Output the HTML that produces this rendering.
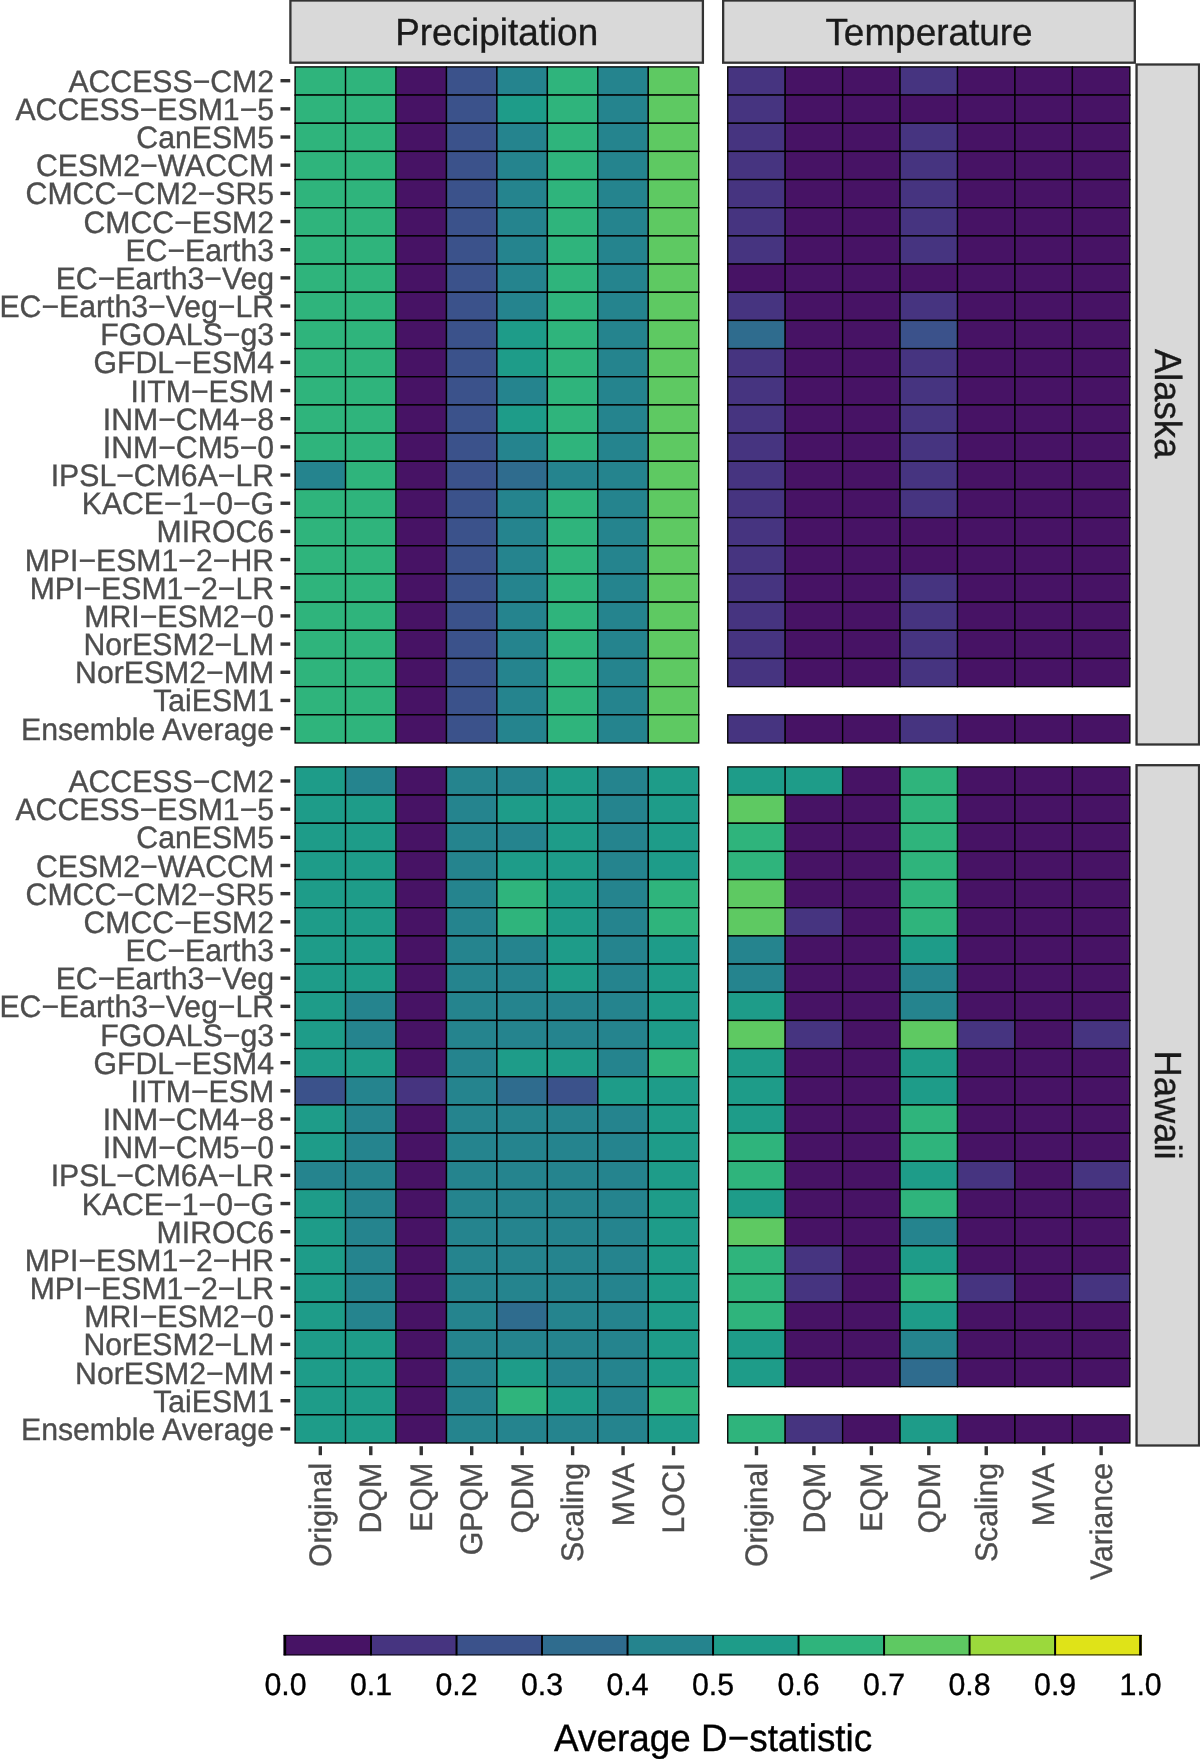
<!DOCTYPE html>
<html><head><meta charset="utf-8"><style>
html,body{margin:0;padding:0;background:#fff;width:1200px;height:1759px;overflow:hidden}
svg{display:block;font-family:"Liberation Sans",sans-serif;text-rendering:geometricPrecision;will-change:transform}
</style></head><body>
<svg width="1200" height="1759" viewBox="0 0 1200 1759">
<rect width="1200" height="1759" fill="#fff"/>
<g stroke="#000" stroke-width="1.35">
<rect x="295.10" y="66.90" width="50.46" height="28.17" fill="#2fb47c"/>
<rect x="345.56" y="66.90" width="50.46" height="28.17" fill="#2fb47c"/>
<rect x="396.01" y="66.90" width="50.46" height="28.17" fill="#471365"/>
<rect x="446.47" y="66.90" width="50.46" height="28.17" fill="#3b528b"/>
<rect x="496.93" y="66.90" width="50.46" height="28.17" fill="#25848e"/>
<rect x="547.38" y="66.90" width="50.46" height="28.17" fill="#2fb47c"/>
<rect x="597.84" y="66.90" width="50.46" height="28.17" fill="#25848e"/>
<rect x="648.29" y="66.90" width="50.46" height="28.17" fill="#5ec962"/>
<rect x="295.10" y="95.07" width="50.46" height="28.17" fill="#2fb47c"/>
<rect x="345.56" y="95.07" width="50.46" height="28.17" fill="#2fb47c"/>
<rect x="396.01" y="95.07" width="50.46" height="28.17" fill="#471365"/>
<rect x="446.47" y="95.07" width="50.46" height="28.17" fill="#3b528b"/>
<rect x="496.93" y="95.07" width="50.46" height="28.17" fill="#1e9c89"/>
<rect x="547.38" y="95.07" width="50.46" height="28.17" fill="#2fb47c"/>
<rect x="597.84" y="95.07" width="50.46" height="28.17" fill="#25848e"/>
<rect x="648.29" y="95.07" width="50.46" height="28.17" fill="#5ec962"/>
<rect x="295.10" y="123.24" width="50.46" height="28.17" fill="#2fb47c"/>
<rect x="345.56" y="123.24" width="50.46" height="28.17" fill="#2fb47c"/>
<rect x="396.01" y="123.24" width="50.46" height="28.17" fill="#471365"/>
<rect x="446.47" y="123.24" width="50.46" height="28.17" fill="#3b528b"/>
<rect x="496.93" y="123.24" width="50.46" height="28.17" fill="#25848e"/>
<rect x="547.38" y="123.24" width="50.46" height="28.17" fill="#2fb47c"/>
<rect x="597.84" y="123.24" width="50.46" height="28.17" fill="#25848e"/>
<rect x="648.29" y="123.24" width="50.46" height="28.17" fill="#5ec962"/>
<rect x="295.10" y="151.41" width="50.46" height="28.17" fill="#2fb47c"/>
<rect x="345.56" y="151.41" width="50.46" height="28.17" fill="#2fb47c"/>
<rect x="396.01" y="151.41" width="50.46" height="28.17" fill="#471365"/>
<rect x="446.47" y="151.41" width="50.46" height="28.17" fill="#3b528b"/>
<rect x="496.93" y="151.41" width="50.46" height="28.17" fill="#25848e"/>
<rect x="547.38" y="151.41" width="50.46" height="28.17" fill="#2fb47c"/>
<rect x="597.84" y="151.41" width="50.46" height="28.17" fill="#25848e"/>
<rect x="648.29" y="151.41" width="50.46" height="28.17" fill="#5ec962"/>
<rect x="295.10" y="179.58" width="50.46" height="28.17" fill="#2fb47c"/>
<rect x="345.56" y="179.58" width="50.46" height="28.17" fill="#2fb47c"/>
<rect x="396.01" y="179.58" width="50.46" height="28.17" fill="#471365"/>
<rect x="446.47" y="179.58" width="50.46" height="28.17" fill="#3b528b"/>
<rect x="496.93" y="179.58" width="50.46" height="28.17" fill="#25848e"/>
<rect x="547.38" y="179.58" width="50.46" height="28.17" fill="#2fb47c"/>
<rect x="597.84" y="179.58" width="50.46" height="28.17" fill="#25848e"/>
<rect x="648.29" y="179.58" width="50.46" height="28.17" fill="#5ec962"/>
<rect x="295.10" y="207.75" width="50.46" height="28.17" fill="#2fb47c"/>
<rect x="345.56" y="207.75" width="50.46" height="28.17" fill="#2fb47c"/>
<rect x="396.01" y="207.75" width="50.46" height="28.17" fill="#471365"/>
<rect x="446.47" y="207.75" width="50.46" height="28.17" fill="#3b528b"/>
<rect x="496.93" y="207.75" width="50.46" height="28.17" fill="#25848e"/>
<rect x="547.38" y="207.75" width="50.46" height="28.17" fill="#2fb47c"/>
<rect x="597.84" y="207.75" width="50.46" height="28.17" fill="#25848e"/>
<rect x="648.29" y="207.75" width="50.46" height="28.17" fill="#5ec962"/>
<rect x="295.10" y="235.92" width="50.46" height="28.17" fill="#2fb47c"/>
<rect x="345.56" y="235.92" width="50.46" height="28.17" fill="#2fb47c"/>
<rect x="396.01" y="235.92" width="50.46" height="28.17" fill="#471365"/>
<rect x="446.47" y="235.92" width="50.46" height="28.17" fill="#3b528b"/>
<rect x="496.93" y="235.92" width="50.46" height="28.17" fill="#25848e"/>
<rect x="547.38" y="235.92" width="50.46" height="28.17" fill="#2fb47c"/>
<rect x="597.84" y="235.92" width="50.46" height="28.17" fill="#25848e"/>
<rect x="648.29" y="235.92" width="50.46" height="28.17" fill="#5ec962"/>
<rect x="295.10" y="264.09" width="50.46" height="28.17" fill="#2fb47c"/>
<rect x="345.56" y="264.09" width="50.46" height="28.17" fill="#2fb47c"/>
<rect x="396.01" y="264.09" width="50.46" height="28.17" fill="#471365"/>
<rect x="446.47" y="264.09" width="50.46" height="28.17" fill="#3b528b"/>
<rect x="496.93" y="264.09" width="50.46" height="28.17" fill="#25848e"/>
<rect x="547.38" y="264.09" width="50.46" height="28.17" fill="#2fb47c"/>
<rect x="597.84" y="264.09" width="50.46" height="28.17" fill="#25848e"/>
<rect x="648.29" y="264.09" width="50.46" height="28.17" fill="#5ec962"/>
<rect x="295.10" y="292.26" width="50.46" height="28.17" fill="#2fb47c"/>
<rect x="345.56" y="292.26" width="50.46" height="28.17" fill="#2fb47c"/>
<rect x="396.01" y="292.26" width="50.46" height="28.17" fill="#471365"/>
<rect x="446.47" y="292.26" width="50.46" height="28.17" fill="#3b528b"/>
<rect x="496.93" y="292.26" width="50.46" height="28.17" fill="#25848e"/>
<rect x="547.38" y="292.26" width="50.46" height="28.17" fill="#2fb47c"/>
<rect x="597.84" y="292.26" width="50.46" height="28.17" fill="#25848e"/>
<rect x="648.29" y="292.26" width="50.46" height="28.17" fill="#5ec962"/>
<rect x="295.10" y="320.43" width="50.46" height="28.17" fill="#2fb47c"/>
<rect x="345.56" y="320.43" width="50.46" height="28.17" fill="#2fb47c"/>
<rect x="396.01" y="320.43" width="50.46" height="28.17" fill="#471365"/>
<rect x="446.47" y="320.43" width="50.46" height="28.17" fill="#3b528b"/>
<rect x="496.93" y="320.43" width="50.46" height="28.17" fill="#1e9c89"/>
<rect x="547.38" y="320.43" width="50.46" height="28.17" fill="#2fb47c"/>
<rect x="597.84" y="320.43" width="50.46" height="28.17" fill="#25848e"/>
<rect x="648.29" y="320.43" width="50.46" height="28.17" fill="#5ec962"/>
<rect x="295.10" y="348.60" width="50.46" height="28.17" fill="#2fb47c"/>
<rect x="345.56" y="348.60" width="50.46" height="28.17" fill="#2fb47c"/>
<rect x="396.01" y="348.60" width="50.46" height="28.17" fill="#471365"/>
<rect x="446.47" y="348.60" width="50.46" height="28.17" fill="#3b528b"/>
<rect x="496.93" y="348.60" width="50.46" height="28.17" fill="#1e9c89"/>
<rect x="547.38" y="348.60" width="50.46" height="28.17" fill="#2fb47c"/>
<rect x="597.84" y="348.60" width="50.46" height="28.17" fill="#25848e"/>
<rect x="648.29" y="348.60" width="50.46" height="28.17" fill="#5ec962"/>
<rect x="295.10" y="376.77" width="50.46" height="28.17" fill="#2fb47c"/>
<rect x="345.56" y="376.77" width="50.46" height="28.17" fill="#2fb47c"/>
<rect x="396.01" y="376.77" width="50.46" height="28.17" fill="#471365"/>
<rect x="446.47" y="376.77" width="50.46" height="28.17" fill="#3b528b"/>
<rect x="496.93" y="376.77" width="50.46" height="28.17" fill="#25848e"/>
<rect x="547.38" y="376.77" width="50.46" height="28.17" fill="#2fb47c"/>
<rect x="597.84" y="376.77" width="50.46" height="28.17" fill="#25848e"/>
<rect x="648.29" y="376.77" width="50.46" height="28.17" fill="#5ec962"/>
<rect x="295.10" y="404.94" width="50.46" height="28.17" fill="#2fb47c"/>
<rect x="345.56" y="404.94" width="50.46" height="28.17" fill="#2fb47c"/>
<rect x="396.01" y="404.94" width="50.46" height="28.17" fill="#471365"/>
<rect x="446.47" y="404.94" width="50.46" height="28.17" fill="#3b528b"/>
<rect x="496.93" y="404.94" width="50.46" height="28.17" fill="#1e9c89"/>
<rect x="547.38" y="404.94" width="50.46" height="28.17" fill="#2fb47c"/>
<rect x="597.84" y="404.94" width="50.46" height="28.17" fill="#25848e"/>
<rect x="648.29" y="404.94" width="50.46" height="28.17" fill="#5ec962"/>
<rect x="295.10" y="433.11" width="50.46" height="28.17" fill="#2fb47c"/>
<rect x="345.56" y="433.11" width="50.46" height="28.17" fill="#2fb47c"/>
<rect x="396.01" y="433.11" width="50.46" height="28.17" fill="#471365"/>
<rect x="446.47" y="433.11" width="50.46" height="28.17" fill="#3b528b"/>
<rect x="496.93" y="433.11" width="50.46" height="28.17" fill="#25848e"/>
<rect x="547.38" y="433.11" width="50.46" height="28.17" fill="#2fb47c"/>
<rect x="597.84" y="433.11" width="50.46" height="28.17" fill="#25848e"/>
<rect x="648.29" y="433.11" width="50.46" height="28.17" fill="#5ec962"/>
<rect x="295.10" y="461.28" width="50.46" height="28.17" fill="#25848e"/>
<rect x="345.56" y="461.28" width="50.46" height="28.17" fill="#2fb47c"/>
<rect x="396.01" y="461.28" width="50.46" height="28.17" fill="#471365"/>
<rect x="446.47" y="461.28" width="50.46" height="28.17" fill="#3b528b"/>
<rect x="496.93" y="461.28" width="50.46" height="28.17" fill="#2f6c8e"/>
<rect x="547.38" y="461.28" width="50.46" height="28.17" fill="#25848e"/>
<rect x="597.84" y="461.28" width="50.46" height="28.17" fill="#25848e"/>
<rect x="648.29" y="461.28" width="50.46" height="28.17" fill="#5ec962"/>
<rect x="295.10" y="489.45" width="50.46" height="28.17" fill="#2fb47c"/>
<rect x="345.56" y="489.45" width="50.46" height="28.17" fill="#2fb47c"/>
<rect x="396.01" y="489.45" width="50.46" height="28.17" fill="#471365"/>
<rect x="446.47" y="489.45" width="50.46" height="28.17" fill="#3b528b"/>
<rect x="496.93" y="489.45" width="50.46" height="28.17" fill="#25848e"/>
<rect x="547.38" y="489.45" width="50.46" height="28.17" fill="#2fb47c"/>
<rect x="597.84" y="489.45" width="50.46" height="28.17" fill="#25848e"/>
<rect x="648.29" y="489.45" width="50.46" height="28.17" fill="#5ec962"/>
<rect x="295.10" y="517.62" width="50.46" height="28.17" fill="#2fb47c"/>
<rect x="345.56" y="517.62" width="50.46" height="28.17" fill="#2fb47c"/>
<rect x="396.01" y="517.62" width="50.46" height="28.17" fill="#471365"/>
<rect x="446.47" y="517.62" width="50.46" height="28.17" fill="#3b528b"/>
<rect x="496.93" y="517.62" width="50.46" height="28.17" fill="#25848e"/>
<rect x="547.38" y="517.62" width="50.46" height="28.17" fill="#2fb47c"/>
<rect x="597.84" y="517.62" width="50.46" height="28.17" fill="#25848e"/>
<rect x="648.29" y="517.62" width="50.46" height="28.17" fill="#5ec962"/>
<rect x="295.10" y="545.79" width="50.46" height="28.17" fill="#2fb47c"/>
<rect x="345.56" y="545.79" width="50.46" height="28.17" fill="#2fb47c"/>
<rect x="396.01" y="545.79" width="50.46" height="28.17" fill="#471365"/>
<rect x="446.47" y="545.79" width="50.46" height="28.17" fill="#3b528b"/>
<rect x="496.93" y="545.79" width="50.46" height="28.17" fill="#25848e"/>
<rect x="547.38" y="545.79" width="50.46" height="28.17" fill="#2fb47c"/>
<rect x="597.84" y="545.79" width="50.46" height="28.17" fill="#25848e"/>
<rect x="648.29" y="545.79" width="50.46" height="28.17" fill="#5ec962"/>
<rect x="295.10" y="573.96" width="50.46" height="28.17" fill="#2fb47c"/>
<rect x="345.56" y="573.96" width="50.46" height="28.17" fill="#2fb47c"/>
<rect x="396.01" y="573.96" width="50.46" height="28.17" fill="#471365"/>
<rect x="446.47" y="573.96" width="50.46" height="28.17" fill="#3b528b"/>
<rect x="496.93" y="573.96" width="50.46" height="28.17" fill="#25848e"/>
<rect x="547.38" y="573.96" width="50.46" height="28.17" fill="#2fb47c"/>
<rect x="597.84" y="573.96" width="50.46" height="28.17" fill="#25848e"/>
<rect x="648.29" y="573.96" width="50.46" height="28.17" fill="#5ec962"/>
<rect x="295.10" y="602.13" width="50.46" height="28.17" fill="#2fb47c"/>
<rect x="345.56" y="602.13" width="50.46" height="28.17" fill="#2fb47c"/>
<rect x="396.01" y="602.13" width="50.46" height="28.17" fill="#471365"/>
<rect x="446.47" y="602.13" width="50.46" height="28.17" fill="#3b528b"/>
<rect x="496.93" y="602.13" width="50.46" height="28.17" fill="#25848e"/>
<rect x="547.38" y="602.13" width="50.46" height="28.17" fill="#2fb47c"/>
<rect x="597.84" y="602.13" width="50.46" height="28.17" fill="#25848e"/>
<rect x="648.29" y="602.13" width="50.46" height="28.17" fill="#5ec962"/>
<rect x="295.10" y="630.30" width="50.46" height="28.17" fill="#2fb47c"/>
<rect x="345.56" y="630.30" width="50.46" height="28.17" fill="#2fb47c"/>
<rect x="396.01" y="630.30" width="50.46" height="28.17" fill="#471365"/>
<rect x="446.47" y="630.30" width="50.46" height="28.17" fill="#3b528b"/>
<rect x="496.93" y="630.30" width="50.46" height="28.17" fill="#25848e"/>
<rect x="547.38" y="630.30" width="50.46" height="28.17" fill="#2fb47c"/>
<rect x="597.84" y="630.30" width="50.46" height="28.17" fill="#25848e"/>
<rect x="648.29" y="630.30" width="50.46" height="28.17" fill="#5ec962"/>
<rect x="295.10" y="658.47" width="50.46" height="28.17" fill="#2fb47c"/>
<rect x="345.56" y="658.47" width="50.46" height="28.17" fill="#2fb47c"/>
<rect x="396.01" y="658.47" width="50.46" height="28.17" fill="#471365"/>
<rect x="446.47" y="658.47" width="50.46" height="28.17" fill="#3b528b"/>
<rect x="496.93" y="658.47" width="50.46" height="28.17" fill="#25848e"/>
<rect x="547.38" y="658.47" width="50.46" height="28.17" fill="#2fb47c"/>
<rect x="597.84" y="658.47" width="50.46" height="28.17" fill="#25848e"/>
<rect x="648.29" y="658.47" width="50.46" height="28.17" fill="#5ec962"/>
<rect x="295.10" y="686.64" width="50.46" height="28.17" fill="#2fb47c"/>
<rect x="345.56" y="686.64" width="50.46" height="28.17" fill="#2fb47c"/>
<rect x="396.01" y="686.64" width="50.46" height="28.17" fill="#471365"/>
<rect x="446.47" y="686.64" width="50.46" height="28.17" fill="#3b528b"/>
<rect x="496.93" y="686.64" width="50.46" height="28.17" fill="#25848e"/>
<rect x="547.38" y="686.64" width="50.46" height="28.17" fill="#2fb47c"/>
<rect x="597.84" y="686.64" width="50.46" height="28.17" fill="#25848e"/>
<rect x="648.29" y="686.64" width="50.46" height="28.17" fill="#5ec962"/>
<rect x="295.10" y="714.81" width="50.46" height="28.17" fill="#2fb47c"/>
<rect x="345.56" y="714.81" width="50.46" height="28.17" fill="#2fb47c"/>
<rect x="396.01" y="714.81" width="50.46" height="28.17" fill="#471365"/>
<rect x="446.47" y="714.81" width="50.46" height="28.17" fill="#3b528b"/>
<rect x="496.93" y="714.81" width="50.46" height="28.17" fill="#25848e"/>
<rect x="547.38" y="714.81" width="50.46" height="28.17" fill="#2fb47c"/>
<rect x="597.84" y="714.81" width="50.46" height="28.17" fill="#25848e"/>
<rect x="648.29" y="714.81" width="50.46" height="28.17" fill="#5ec962"/>
<rect x="727.75" y="66.90" width="57.44" height="28.17" fill="#463480"/>
<rect x="785.19" y="66.90" width="57.44" height="28.17" fill="#471365"/>
<rect x="842.64" y="66.90" width="57.44" height="28.17" fill="#471365"/>
<rect x="900.08" y="66.90" width="57.44" height="28.17" fill="#463480"/>
<rect x="957.52" y="66.90" width="57.44" height="28.17" fill="#471365"/>
<rect x="1014.96" y="66.90" width="57.44" height="28.17" fill="#471365"/>
<rect x="1072.41" y="66.90" width="57.44" height="28.17" fill="#471365"/>
<rect x="727.75" y="95.07" width="57.44" height="28.17" fill="#463480"/>
<rect x="785.19" y="95.07" width="57.44" height="28.17" fill="#471365"/>
<rect x="842.64" y="95.07" width="57.44" height="28.17" fill="#471365"/>
<rect x="900.08" y="95.07" width="57.44" height="28.17" fill="#471365"/>
<rect x="957.52" y="95.07" width="57.44" height="28.17" fill="#471365"/>
<rect x="1014.96" y="95.07" width="57.44" height="28.17" fill="#471365"/>
<rect x="1072.41" y="95.07" width="57.44" height="28.17" fill="#471365"/>
<rect x="727.75" y="123.24" width="57.44" height="28.17" fill="#463480"/>
<rect x="785.19" y="123.24" width="57.44" height="28.17" fill="#471365"/>
<rect x="842.64" y="123.24" width="57.44" height="28.17" fill="#471365"/>
<rect x="900.08" y="123.24" width="57.44" height="28.17" fill="#463480"/>
<rect x="957.52" y="123.24" width="57.44" height="28.17" fill="#471365"/>
<rect x="1014.96" y="123.24" width="57.44" height="28.17" fill="#471365"/>
<rect x="1072.41" y="123.24" width="57.44" height="28.17" fill="#471365"/>
<rect x="727.75" y="151.41" width="57.44" height="28.17" fill="#463480"/>
<rect x="785.19" y="151.41" width="57.44" height="28.17" fill="#471365"/>
<rect x="842.64" y="151.41" width="57.44" height="28.17" fill="#471365"/>
<rect x="900.08" y="151.41" width="57.44" height="28.17" fill="#463480"/>
<rect x="957.52" y="151.41" width="57.44" height="28.17" fill="#471365"/>
<rect x="1014.96" y="151.41" width="57.44" height="28.17" fill="#471365"/>
<rect x="1072.41" y="151.41" width="57.44" height="28.17" fill="#471365"/>
<rect x="727.75" y="179.58" width="57.44" height="28.17" fill="#463480"/>
<rect x="785.19" y="179.58" width="57.44" height="28.17" fill="#471365"/>
<rect x="842.64" y="179.58" width="57.44" height="28.17" fill="#471365"/>
<rect x="900.08" y="179.58" width="57.44" height="28.17" fill="#463480"/>
<rect x="957.52" y="179.58" width="57.44" height="28.17" fill="#471365"/>
<rect x="1014.96" y="179.58" width="57.44" height="28.17" fill="#471365"/>
<rect x="1072.41" y="179.58" width="57.44" height="28.17" fill="#471365"/>
<rect x="727.75" y="207.75" width="57.44" height="28.17" fill="#463480"/>
<rect x="785.19" y="207.75" width="57.44" height="28.17" fill="#471365"/>
<rect x="842.64" y="207.75" width="57.44" height="28.17" fill="#471365"/>
<rect x="900.08" y="207.75" width="57.44" height="28.17" fill="#463480"/>
<rect x="957.52" y="207.75" width="57.44" height="28.17" fill="#471365"/>
<rect x="1014.96" y="207.75" width="57.44" height="28.17" fill="#471365"/>
<rect x="1072.41" y="207.75" width="57.44" height="28.17" fill="#471365"/>
<rect x="727.75" y="235.92" width="57.44" height="28.17" fill="#463480"/>
<rect x="785.19" y="235.92" width="57.44" height="28.17" fill="#471365"/>
<rect x="842.64" y="235.92" width="57.44" height="28.17" fill="#471365"/>
<rect x="900.08" y="235.92" width="57.44" height="28.17" fill="#463480"/>
<rect x="957.52" y="235.92" width="57.44" height="28.17" fill="#471365"/>
<rect x="1014.96" y="235.92" width="57.44" height="28.17" fill="#471365"/>
<rect x="1072.41" y="235.92" width="57.44" height="28.17" fill="#471365"/>
<rect x="727.75" y="264.09" width="57.44" height="28.17" fill="#471365"/>
<rect x="785.19" y="264.09" width="57.44" height="28.17" fill="#471365"/>
<rect x="842.64" y="264.09" width="57.44" height="28.17" fill="#471365"/>
<rect x="900.08" y="264.09" width="57.44" height="28.17" fill="#471365"/>
<rect x="957.52" y="264.09" width="57.44" height="28.17" fill="#471365"/>
<rect x="1014.96" y="264.09" width="57.44" height="28.17" fill="#471365"/>
<rect x="1072.41" y="264.09" width="57.44" height="28.17" fill="#471365"/>
<rect x="727.75" y="292.26" width="57.44" height="28.17" fill="#463480"/>
<rect x="785.19" y="292.26" width="57.44" height="28.17" fill="#471365"/>
<rect x="842.64" y="292.26" width="57.44" height="28.17" fill="#471365"/>
<rect x="900.08" y="292.26" width="57.44" height="28.17" fill="#463480"/>
<rect x="957.52" y="292.26" width="57.44" height="28.17" fill="#471365"/>
<rect x="1014.96" y="292.26" width="57.44" height="28.17" fill="#471365"/>
<rect x="1072.41" y="292.26" width="57.44" height="28.17" fill="#471365"/>
<rect x="727.75" y="320.43" width="57.44" height="28.17" fill="#2f6c8e"/>
<rect x="785.19" y="320.43" width="57.44" height="28.17" fill="#471365"/>
<rect x="842.64" y="320.43" width="57.44" height="28.17" fill="#471365"/>
<rect x="900.08" y="320.43" width="57.44" height="28.17" fill="#3b528b"/>
<rect x="957.52" y="320.43" width="57.44" height="28.17" fill="#471365"/>
<rect x="1014.96" y="320.43" width="57.44" height="28.17" fill="#471365"/>
<rect x="1072.41" y="320.43" width="57.44" height="28.17" fill="#471365"/>
<rect x="727.75" y="348.60" width="57.44" height="28.17" fill="#463480"/>
<rect x="785.19" y="348.60" width="57.44" height="28.17" fill="#471365"/>
<rect x="842.64" y="348.60" width="57.44" height="28.17" fill="#471365"/>
<rect x="900.08" y="348.60" width="57.44" height="28.17" fill="#463480"/>
<rect x="957.52" y="348.60" width="57.44" height="28.17" fill="#471365"/>
<rect x="1014.96" y="348.60" width="57.44" height="28.17" fill="#471365"/>
<rect x="1072.41" y="348.60" width="57.44" height="28.17" fill="#471365"/>
<rect x="727.75" y="376.77" width="57.44" height="28.17" fill="#463480"/>
<rect x="785.19" y="376.77" width="57.44" height="28.17" fill="#471365"/>
<rect x="842.64" y="376.77" width="57.44" height="28.17" fill="#471365"/>
<rect x="900.08" y="376.77" width="57.44" height="28.17" fill="#463480"/>
<rect x="957.52" y="376.77" width="57.44" height="28.17" fill="#471365"/>
<rect x="1014.96" y="376.77" width="57.44" height="28.17" fill="#471365"/>
<rect x="1072.41" y="376.77" width="57.44" height="28.17" fill="#471365"/>
<rect x="727.75" y="404.94" width="57.44" height="28.17" fill="#463480"/>
<rect x="785.19" y="404.94" width="57.44" height="28.17" fill="#471365"/>
<rect x="842.64" y="404.94" width="57.44" height="28.17" fill="#471365"/>
<rect x="900.08" y="404.94" width="57.44" height="28.17" fill="#463480"/>
<rect x="957.52" y="404.94" width="57.44" height="28.17" fill="#471365"/>
<rect x="1014.96" y="404.94" width="57.44" height="28.17" fill="#471365"/>
<rect x="1072.41" y="404.94" width="57.44" height="28.17" fill="#471365"/>
<rect x="727.75" y="433.11" width="57.44" height="28.17" fill="#463480"/>
<rect x="785.19" y="433.11" width="57.44" height="28.17" fill="#471365"/>
<rect x="842.64" y="433.11" width="57.44" height="28.17" fill="#471365"/>
<rect x="900.08" y="433.11" width="57.44" height="28.17" fill="#463480"/>
<rect x="957.52" y="433.11" width="57.44" height="28.17" fill="#471365"/>
<rect x="1014.96" y="433.11" width="57.44" height="28.17" fill="#471365"/>
<rect x="1072.41" y="433.11" width="57.44" height="28.17" fill="#471365"/>
<rect x="727.75" y="461.28" width="57.44" height="28.17" fill="#463480"/>
<rect x="785.19" y="461.28" width="57.44" height="28.17" fill="#471365"/>
<rect x="842.64" y="461.28" width="57.44" height="28.17" fill="#471365"/>
<rect x="900.08" y="461.28" width="57.44" height="28.17" fill="#463480"/>
<rect x="957.52" y="461.28" width="57.44" height="28.17" fill="#471365"/>
<rect x="1014.96" y="461.28" width="57.44" height="28.17" fill="#471365"/>
<rect x="1072.41" y="461.28" width="57.44" height="28.17" fill="#471365"/>
<rect x="727.75" y="489.45" width="57.44" height="28.17" fill="#463480"/>
<rect x="785.19" y="489.45" width="57.44" height="28.17" fill="#471365"/>
<rect x="842.64" y="489.45" width="57.44" height="28.17" fill="#471365"/>
<rect x="900.08" y="489.45" width="57.44" height="28.17" fill="#463480"/>
<rect x="957.52" y="489.45" width="57.44" height="28.17" fill="#471365"/>
<rect x="1014.96" y="489.45" width="57.44" height="28.17" fill="#471365"/>
<rect x="1072.41" y="489.45" width="57.44" height="28.17" fill="#471365"/>
<rect x="727.75" y="517.62" width="57.44" height="28.17" fill="#463480"/>
<rect x="785.19" y="517.62" width="57.44" height="28.17" fill="#471365"/>
<rect x="842.64" y="517.62" width="57.44" height="28.17" fill="#471365"/>
<rect x="900.08" y="517.62" width="57.44" height="28.17" fill="#471365"/>
<rect x="957.52" y="517.62" width="57.44" height="28.17" fill="#471365"/>
<rect x="1014.96" y="517.62" width="57.44" height="28.17" fill="#471365"/>
<rect x="1072.41" y="517.62" width="57.44" height="28.17" fill="#471365"/>
<rect x="727.75" y="545.79" width="57.44" height="28.17" fill="#463480"/>
<rect x="785.19" y="545.79" width="57.44" height="28.17" fill="#471365"/>
<rect x="842.64" y="545.79" width="57.44" height="28.17" fill="#471365"/>
<rect x="900.08" y="545.79" width="57.44" height="28.17" fill="#471365"/>
<rect x="957.52" y="545.79" width="57.44" height="28.17" fill="#471365"/>
<rect x="1014.96" y="545.79" width="57.44" height="28.17" fill="#471365"/>
<rect x="1072.41" y="545.79" width="57.44" height="28.17" fill="#471365"/>
<rect x="727.75" y="573.96" width="57.44" height="28.17" fill="#463480"/>
<rect x="785.19" y="573.96" width="57.44" height="28.17" fill="#471365"/>
<rect x="842.64" y="573.96" width="57.44" height="28.17" fill="#471365"/>
<rect x="900.08" y="573.96" width="57.44" height="28.17" fill="#463480"/>
<rect x="957.52" y="573.96" width="57.44" height="28.17" fill="#471365"/>
<rect x="1014.96" y="573.96" width="57.44" height="28.17" fill="#471365"/>
<rect x="1072.41" y="573.96" width="57.44" height="28.17" fill="#471365"/>
<rect x="727.75" y="602.13" width="57.44" height="28.17" fill="#463480"/>
<rect x="785.19" y="602.13" width="57.44" height="28.17" fill="#471365"/>
<rect x="842.64" y="602.13" width="57.44" height="28.17" fill="#471365"/>
<rect x="900.08" y="602.13" width="57.44" height="28.17" fill="#463480"/>
<rect x="957.52" y="602.13" width="57.44" height="28.17" fill="#471365"/>
<rect x="1014.96" y="602.13" width="57.44" height="28.17" fill="#471365"/>
<rect x="1072.41" y="602.13" width="57.44" height="28.17" fill="#471365"/>
<rect x="727.75" y="630.30" width="57.44" height="28.17" fill="#463480"/>
<rect x="785.19" y="630.30" width="57.44" height="28.17" fill="#471365"/>
<rect x="842.64" y="630.30" width="57.44" height="28.17" fill="#471365"/>
<rect x="900.08" y="630.30" width="57.44" height="28.17" fill="#463480"/>
<rect x="957.52" y="630.30" width="57.44" height="28.17" fill="#471365"/>
<rect x="1014.96" y="630.30" width="57.44" height="28.17" fill="#471365"/>
<rect x="1072.41" y="630.30" width="57.44" height="28.17" fill="#471365"/>
<rect x="727.75" y="658.47" width="57.44" height="28.17" fill="#463480"/>
<rect x="785.19" y="658.47" width="57.44" height="28.17" fill="#471365"/>
<rect x="842.64" y="658.47" width="57.44" height="28.17" fill="#471365"/>
<rect x="900.08" y="658.47" width="57.44" height="28.17" fill="#463480"/>
<rect x="957.52" y="658.47" width="57.44" height="28.17" fill="#471365"/>
<rect x="1014.96" y="658.47" width="57.44" height="28.17" fill="#471365"/>
<rect x="1072.41" y="658.47" width="57.44" height="28.17" fill="#471365"/>
<rect x="727.75" y="714.81" width="57.44" height="28.17" fill="#463480"/>
<rect x="785.19" y="714.81" width="57.44" height="28.17" fill="#471365"/>
<rect x="842.64" y="714.81" width="57.44" height="28.17" fill="#471365"/>
<rect x="900.08" y="714.81" width="57.44" height="28.17" fill="#463480"/>
<rect x="957.52" y="714.81" width="57.44" height="28.17" fill="#471365"/>
<rect x="1014.96" y="714.81" width="57.44" height="28.17" fill="#471365"/>
<rect x="1072.41" y="714.81" width="57.44" height="28.17" fill="#471365"/>
<rect x="295.10" y="766.90" width="50.46" height="28.17" fill="#1e9c89"/>
<rect x="345.56" y="766.90" width="50.46" height="28.17" fill="#25848e"/>
<rect x="396.01" y="766.90" width="50.46" height="28.17" fill="#471365"/>
<rect x="446.47" y="766.90" width="50.46" height="28.17" fill="#25848e"/>
<rect x="496.93" y="766.90" width="50.46" height="28.17" fill="#25848e"/>
<rect x="547.38" y="766.90" width="50.46" height="28.17" fill="#1e9c89"/>
<rect x="597.84" y="766.90" width="50.46" height="28.17" fill="#25848e"/>
<rect x="648.29" y="766.90" width="50.46" height="28.17" fill="#1e9c89"/>
<rect x="295.10" y="795.07" width="50.46" height="28.17" fill="#1e9c89"/>
<rect x="345.56" y="795.07" width="50.46" height="28.17" fill="#1e9c89"/>
<rect x="396.01" y="795.07" width="50.46" height="28.17" fill="#471365"/>
<rect x="446.47" y="795.07" width="50.46" height="28.17" fill="#25848e"/>
<rect x="496.93" y="795.07" width="50.46" height="28.17" fill="#1e9c89"/>
<rect x="547.38" y="795.07" width="50.46" height="28.17" fill="#1e9c89"/>
<rect x="597.84" y="795.07" width="50.46" height="28.17" fill="#25848e"/>
<rect x="648.29" y="795.07" width="50.46" height="28.17" fill="#1e9c89"/>
<rect x="295.10" y="823.24" width="50.46" height="28.17" fill="#1e9c89"/>
<rect x="345.56" y="823.24" width="50.46" height="28.17" fill="#1e9c89"/>
<rect x="396.01" y="823.24" width="50.46" height="28.17" fill="#471365"/>
<rect x="446.47" y="823.24" width="50.46" height="28.17" fill="#25848e"/>
<rect x="496.93" y="823.24" width="50.46" height="28.17" fill="#25848e"/>
<rect x="547.38" y="823.24" width="50.46" height="28.17" fill="#1e9c89"/>
<rect x="597.84" y="823.24" width="50.46" height="28.17" fill="#25848e"/>
<rect x="648.29" y="823.24" width="50.46" height="28.17" fill="#1e9c89"/>
<rect x="295.10" y="851.41" width="50.46" height="28.17" fill="#1e9c89"/>
<rect x="345.56" y="851.41" width="50.46" height="28.17" fill="#1e9c89"/>
<rect x="396.01" y="851.41" width="50.46" height="28.17" fill="#471365"/>
<rect x="446.47" y="851.41" width="50.46" height="28.17" fill="#25848e"/>
<rect x="496.93" y="851.41" width="50.46" height="28.17" fill="#1e9c89"/>
<rect x="547.38" y="851.41" width="50.46" height="28.17" fill="#1e9c89"/>
<rect x="597.84" y="851.41" width="50.46" height="28.17" fill="#25848e"/>
<rect x="648.29" y="851.41" width="50.46" height="28.17" fill="#1e9c89"/>
<rect x="295.10" y="879.58" width="50.46" height="28.17" fill="#1e9c89"/>
<rect x="345.56" y="879.58" width="50.46" height="28.17" fill="#1e9c89"/>
<rect x="396.01" y="879.58" width="50.46" height="28.17" fill="#471365"/>
<rect x="446.47" y="879.58" width="50.46" height="28.17" fill="#25848e"/>
<rect x="496.93" y="879.58" width="50.46" height="28.17" fill="#2fb47c"/>
<rect x="547.38" y="879.58" width="50.46" height="28.17" fill="#1e9c89"/>
<rect x="597.84" y="879.58" width="50.46" height="28.17" fill="#25848e"/>
<rect x="648.29" y="879.58" width="50.46" height="28.17" fill="#2fb47c"/>
<rect x="295.10" y="907.75" width="50.46" height="28.17" fill="#1e9c89"/>
<rect x="345.56" y="907.75" width="50.46" height="28.17" fill="#1e9c89"/>
<rect x="396.01" y="907.75" width="50.46" height="28.17" fill="#471365"/>
<rect x="446.47" y="907.75" width="50.46" height="28.17" fill="#25848e"/>
<rect x="496.93" y="907.75" width="50.46" height="28.17" fill="#2fb47c"/>
<rect x="547.38" y="907.75" width="50.46" height="28.17" fill="#1e9c89"/>
<rect x="597.84" y="907.75" width="50.46" height="28.17" fill="#25848e"/>
<rect x="648.29" y="907.75" width="50.46" height="28.17" fill="#2fb47c"/>
<rect x="295.10" y="935.92" width="50.46" height="28.17" fill="#1e9c89"/>
<rect x="345.56" y="935.92" width="50.46" height="28.17" fill="#1e9c89"/>
<rect x="396.01" y="935.92" width="50.46" height="28.17" fill="#471365"/>
<rect x="446.47" y="935.92" width="50.46" height="28.17" fill="#25848e"/>
<rect x="496.93" y="935.92" width="50.46" height="28.17" fill="#25848e"/>
<rect x="547.38" y="935.92" width="50.46" height="28.17" fill="#1e9c89"/>
<rect x="597.84" y="935.92" width="50.46" height="28.17" fill="#25848e"/>
<rect x="648.29" y="935.92" width="50.46" height="28.17" fill="#1e9c89"/>
<rect x="295.10" y="964.09" width="50.46" height="28.17" fill="#1e9c89"/>
<rect x="345.56" y="964.09" width="50.46" height="28.17" fill="#1e9c89"/>
<rect x="396.01" y="964.09" width="50.46" height="28.17" fill="#471365"/>
<rect x="446.47" y="964.09" width="50.46" height="28.17" fill="#25848e"/>
<rect x="496.93" y="964.09" width="50.46" height="28.17" fill="#25848e"/>
<rect x="547.38" y="964.09" width="50.46" height="28.17" fill="#1e9c89"/>
<rect x="597.84" y="964.09" width="50.46" height="28.17" fill="#25848e"/>
<rect x="648.29" y="964.09" width="50.46" height="28.17" fill="#1e9c89"/>
<rect x="295.10" y="992.26" width="50.46" height="28.17" fill="#1e9c89"/>
<rect x="345.56" y="992.26" width="50.46" height="28.17" fill="#25848e"/>
<rect x="396.01" y="992.26" width="50.46" height="28.17" fill="#471365"/>
<rect x="446.47" y="992.26" width="50.46" height="28.17" fill="#25848e"/>
<rect x="496.93" y="992.26" width="50.46" height="28.17" fill="#25848e"/>
<rect x="547.38" y="992.26" width="50.46" height="28.17" fill="#25848e"/>
<rect x="597.84" y="992.26" width="50.46" height="28.17" fill="#25848e"/>
<rect x="648.29" y="992.26" width="50.46" height="28.17" fill="#1e9c89"/>
<rect x="295.10" y="1020.43" width="50.46" height="28.17" fill="#1e9c89"/>
<rect x="345.56" y="1020.43" width="50.46" height="28.17" fill="#25848e"/>
<rect x="396.01" y="1020.43" width="50.46" height="28.17" fill="#471365"/>
<rect x="446.47" y="1020.43" width="50.46" height="28.17" fill="#25848e"/>
<rect x="496.93" y="1020.43" width="50.46" height="28.17" fill="#25848e"/>
<rect x="547.38" y="1020.43" width="50.46" height="28.17" fill="#25848e"/>
<rect x="597.84" y="1020.43" width="50.46" height="28.17" fill="#25848e"/>
<rect x="648.29" y="1020.43" width="50.46" height="28.17" fill="#1e9c89"/>
<rect x="295.10" y="1048.60" width="50.46" height="28.17" fill="#1e9c89"/>
<rect x="345.56" y="1048.60" width="50.46" height="28.17" fill="#1e9c89"/>
<rect x="396.01" y="1048.60" width="50.46" height="28.17" fill="#471365"/>
<rect x="446.47" y="1048.60" width="50.46" height="28.17" fill="#25848e"/>
<rect x="496.93" y="1048.60" width="50.46" height="28.17" fill="#1e9c89"/>
<rect x="547.38" y="1048.60" width="50.46" height="28.17" fill="#1e9c89"/>
<rect x="597.84" y="1048.60" width="50.46" height="28.17" fill="#25848e"/>
<rect x="648.29" y="1048.60" width="50.46" height="28.17" fill="#2fb47c"/>
<rect x="295.10" y="1076.77" width="50.46" height="28.17" fill="#3b528b"/>
<rect x="345.56" y="1076.77" width="50.46" height="28.17" fill="#25848e"/>
<rect x="396.01" y="1076.77" width="50.46" height="28.17" fill="#463480"/>
<rect x="446.47" y="1076.77" width="50.46" height="28.17" fill="#25848e"/>
<rect x="496.93" y="1076.77" width="50.46" height="28.17" fill="#2f6c8e"/>
<rect x="547.38" y="1076.77" width="50.46" height="28.17" fill="#3b528b"/>
<rect x="597.84" y="1076.77" width="50.46" height="28.17" fill="#1e9c89"/>
<rect x="648.29" y="1076.77" width="50.46" height="28.17" fill="#1e9c89"/>
<rect x="295.10" y="1104.94" width="50.46" height="28.17" fill="#1e9c89"/>
<rect x="345.56" y="1104.94" width="50.46" height="28.17" fill="#25848e"/>
<rect x="396.01" y="1104.94" width="50.46" height="28.17" fill="#471365"/>
<rect x="446.47" y="1104.94" width="50.46" height="28.17" fill="#25848e"/>
<rect x="496.93" y="1104.94" width="50.46" height="28.17" fill="#25848e"/>
<rect x="547.38" y="1104.94" width="50.46" height="28.17" fill="#25848e"/>
<rect x="597.84" y="1104.94" width="50.46" height="28.17" fill="#25848e"/>
<rect x="648.29" y="1104.94" width="50.46" height="28.17" fill="#1e9c89"/>
<rect x="295.10" y="1133.11" width="50.46" height="28.17" fill="#1e9c89"/>
<rect x="345.56" y="1133.11" width="50.46" height="28.17" fill="#25848e"/>
<rect x="396.01" y="1133.11" width="50.46" height="28.17" fill="#471365"/>
<rect x="446.47" y="1133.11" width="50.46" height="28.17" fill="#25848e"/>
<rect x="496.93" y="1133.11" width="50.46" height="28.17" fill="#25848e"/>
<rect x="547.38" y="1133.11" width="50.46" height="28.17" fill="#25848e"/>
<rect x="597.84" y="1133.11" width="50.46" height="28.17" fill="#25848e"/>
<rect x="648.29" y="1133.11" width="50.46" height="28.17" fill="#1e9c89"/>
<rect x="295.10" y="1161.28" width="50.46" height="28.17" fill="#25848e"/>
<rect x="345.56" y="1161.28" width="50.46" height="28.17" fill="#25848e"/>
<rect x="396.01" y="1161.28" width="50.46" height="28.17" fill="#471365"/>
<rect x="446.47" y="1161.28" width="50.46" height="28.17" fill="#25848e"/>
<rect x="496.93" y="1161.28" width="50.46" height="28.17" fill="#25848e"/>
<rect x="547.38" y="1161.28" width="50.46" height="28.17" fill="#25848e"/>
<rect x="597.84" y="1161.28" width="50.46" height="28.17" fill="#25848e"/>
<rect x="648.29" y="1161.28" width="50.46" height="28.17" fill="#1e9c89"/>
<rect x="295.10" y="1189.45" width="50.46" height="28.17" fill="#1e9c89"/>
<rect x="345.56" y="1189.45" width="50.46" height="28.17" fill="#25848e"/>
<rect x="396.01" y="1189.45" width="50.46" height="28.17" fill="#471365"/>
<rect x="446.47" y="1189.45" width="50.46" height="28.17" fill="#25848e"/>
<rect x="496.93" y="1189.45" width="50.46" height="28.17" fill="#25848e"/>
<rect x="547.38" y="1189.45" width="50.46" height="28.17" fill="#25848e"/>
<rect x="597.84" y="1189.45" width="50.46" height="28.17" fill="#25848e"/>
<rect x="648.29" y="1189.45" width="50.46" height="28.17" fill="#1e9c89"/>
<rect x="295.10" y="1217.62" width="50.46" height="28.17" fill="#1e9c89"/>
<rect x="345.56" y="1217.62" width="50.46" height="28.17" fill="#25848e"/>
<rect x="396.01" y="1217.62" width="50.46" height="28.17" fill="#471365"/>
<rect x="446.47" y="1217.62" width="50.46" height="28.17" fill="#25848e"/>
<rect x="496.93" y="1217.62" width="50.46" height="28.17" fill="#25848e"/>
<rect x="547.38" y="1217.62" width="50.46" height="28.17" fill="#25848e"/>
<rect x="597.84" y="1217.62" width="50.46" height="28.17" fill="#25848e"/>
<rect x="648.29" y="1217.62" width="50.46" height="28.17" fill="#1e9c89"/>
<rect x="295.10" y="1245.79" width="50.46" height="28.17" fill="#1e9c89"/>
<rect x="345.56" y="1245.79" width="50.46" height="28.17" fill="#25848e"/>
<rect x="396.01" y="1245.79" width="50.46" height="28.17" fill="#471365"/>
<rect x="446.47" y="1245.79" width="50.46" height="28.17" fill="#25848e"/>
<rect x="496.93" y="1245.79" width="50.46" height="28.17" fill="#25848e"/>
<rect x="547.38" y="1245.79" width="50.46" height="28.17" fill="#25848e"/>
<rect x="597.84" y="1245.79" width="50.46" height="28.17" fill="#25848e"/>
<rect x="648.29" y="1245.79" width="50.46" height="28.17" fill="#1e9c89"/>
<rect x="295.10" y="1273.96" width="50.46" height="28.17" fill="#1e9c89"/>
<rect x="345.56" y="1273.96" width="50.46" height="28.17" fill="#25848e"/>
<rect x="396.01" y="1273.96" width="50.46" height="28.17" fill="#471365"/>
<rect x="446.47" y="1273.96" width="50.46" height="28.17" fill="#25848e"/>
<rect x="496.93" y="1273.96" width="50.46" height="28.17" fill="#25848e"/>
<rect x="547.38" y="1273.96" width="50.46" height="28.17" fill="#25848e"/>
<rect x="597.84" y="1273.96" width="50.46" height="28.17" fill="#25848e"/>
<rect x="648.29" y="1273.96" width="50.46" height="28.17" fill="#1e9c89"/>
<rect x="295.10" y="1302.13" width="50.46" height="28.17" fill="#1e9c89"/>
<rect x="345.56" y="1302.13" width="50.46" height="28.17" fill="#25848e"/>
<rect x="396.01" y="1302.13" width="50.46" height="28.17" fill="#471365"/>
<rect x="446.47" y="1302.13" width="50.46" height="28.17" fill="#25848e"/>
<rect x="496.93" y="1302.13" width="50.46" height="28.17" fill="#2f6c8e"/>
<rect x="547.38" y="1302.13" width="50.46" height="28.17" fill="#25848e"/>
<rect x="597.84" y="1302.13" width="50.46" height="28.17" fill="#25848e"/>
<rect x="648.29" y="1302.13" width="50.46" height="28.17" fill="#1e9c89"/>
<rect x="295.10" y="1330.30" width="50.46" height="28.17" fill="#1e9c89"/>
<rect x="345.56" y="1330.30" width="50.46" height="28.17" fill="#1e9c89"/>
<rect x="396.01" y="1330.30" width="50.46" height="28.17" fill="#471365"/>
<rect x="446.47" y="1330.30" width="50.46" height="28.17" fill="#25848e"/>
<rect x="496.93" y="1330.30" width="50.46" height="28.17" fill="#25848e"/>
<rect x="547.38" y="1330.30" width="50.46" height="28.17" fill="#25848e"/>
<rect x="597.84" y="1330.30" width="50.46" height="28.17" fill="#25848e"/>
<rect x="648.29" y="1330.30" width="50.46" height="28.17" fill="#1e9c89"/>
<rect x="295.10" y="1358.47" width="50.46" height="28.17" fill="#1e9c89"/>
<rect x="345.56" y="1358.47" width="50.46" height="28.17" fill="#1e9c89"/>
<rect x="396.01" y="1358.47" width="50.46" height="28.17" fill="#471365"/>
<rect x="446.47" y="1358.47" width="50.46" height="28.17" fill="#25848e"/>
<rect x="496.93" y="1358.47" width="50.46" height="28.17" fill="#1e9c89"/>
<rect x="547.38" y="1358.47" width="50.46" height="28.17" fill="#25848e"/>
<rect x="597.84" y="1358.47" width="50.46" height="28.17" fill="#25848e"/>
<rect x="648.29" y="1358.47" width="50.46" height="28.17" fill="#1e9c89"/>
<rect x="295.10" y="1386.64" width="50.46" height="28.17" fill="#1e9c89"/>
<rect x="345.56" y="1386.64" width="50.46" height="28.17" fill="#1e9c89"/>
<rect x="396.01" y="1386.64" width="50.46" height="28.17" fill="#471365"/>
<rect x="446.47" y="1386.64" width="50.46" height="28.17" fill="#25848e"/>
<rect x="496.93" y="1386.64" width="50.46" height="28.17" fill="#2fb47c"/>
<rect x="547.38" y="1386.64" width="50.46" height="28.17" fill="#1e9c89"/>
<rect x="597.84" y="1386.64" width="50.46" height="28.17" fill="#25848e"/>
<rect x="648.29" y="1386.64" width="50.46" height="28.17" fill="#2fb47c"/>
<rect x="295.10" y="1414.81" width="50.46" height="28.17" fill="#1e9c89"/>
<rect x="345.56" y="1414.81" width="50.46" height="28.17" fill="#1e9c89"/>
<rect x="396.01" y="1414.81" width="50.46" height="28.17" fill="#471365"/>
<rect x="446.47" y="1414.81" width="50.46" height="28.17" fill="#25848e"/>
<rect x="496.93" y="1414.81" width="50.46" height="28.17" fill="#25848e"/>
<rect x="547.38" y="1414.81" width="50.46" height="28.17" fill="#25848e"/>
<rect x="597.84" y="1414.81" width="50.46" height="28.17" fill="#25848e"/>
<rect x="648.29" y="1414.81" width="50.46" height="28.17" fill="#1e9c89"/>
<rect x="727.75" y="766.90" width="57.44" height="28.17" fill="#1e9c89"/>
<rect x="785.19" y="766.90" width="57.44" height="28.17" fill="#1e9c89"/>
<rect x="842.64" y="766.90" width="57.44" height="28.17" fill="#471365"/>
<rect x="900.08" y="766.90" width="57.44" height="28.17" fill="#2fb47c"/>
<rect x="957.52" y="766.90" width="57.44" height="28.17" fill="#471365"/>
<rect x="1014.96" y="766.90" width="57.44" height="28.17" fill="#471365"/>
<rect x="1072.41" y="766.90" width="57.44" height="28.17" fill="#471365"/>
<rect x="727.75" y="795.07" width="57.44" height="28.17" fill="#5ec962"/>
<rect x="785.19" y="795.07" width="57.44" height="28.17" fill="#471365"/>
<rect x="842.64" y="795.07" width="57.44" height="28.17" fill="#471365"/>
<rect x="900.08" y="795.07" width="57.44" height="28.17" fill="#2fb47c"/>
<rect x="957.52" y="795.07" width="57.44" height="28.17" fill="#471365"/>
<rect x="1014.96" y="795.07" width="57.44" height="28.17" fill="#471365"/>
<rect x="1072.41" y="795.07" width="57.44" height="28.17" fill="#471365"/>
<rect x="727.75" y="823.24" width="57.44" height="28.17" fill="#2fb47c"/>
<rect x="785.19" y="823.24" width="57.44" height="28.17" fill="#471365"/>
<rect x="842.64" y="823.24" width="57.44" height="28.17" fill="#471365"/>
<rect x="900.08" y="823.24" width="57.44" height="28.17" fill="#2fb47c"/>
<rect x="957.52" y="823.24" width="57.44" height="28.17" fill="#471365"/>
<rect x="1014.96" y="823.24" width="57.44" height="28.17" fill="#471365"/>
<rect x="1072.41" y="823.24" width="57.44" height="28.17" fill="#471365"/>
<rect x="727.75" y="851.41" width="57.44" height="28.17" fill="#2fb47c"/>
<rect x="785.19" y="851.41" width="57.44" height="28.17" fill="#471365"/>
<rect x="842.64" y="851.41" width="57.44" height="28.17" fill="#471365"/>
<rect x="900.08" y="851.41" width="57.44" height="28.17" fill="#2fb47c"/>
<rect x="957.52" y="851.41" width="57.44" height="28.17" fill="#471365"/>
<rect x="1014.96" y="851.41" width="57.44" height="28.17" fill="#471365"/>
<rect x="1072.41" y="851.41" width="57.44" height="28.17" fill="#471365"/>
<rect x="727.75" y="879.58" width="57.44" height="28.17" fill="#5ec962"/>
<rect x="785.19" y="879.58" width="57.44" height="28.17" fill="#471365"/>
<rect x="842.64" y="879.58" width="57.44" height="28.17" fill="#471365"/>
<rect x="900.08" y="879.58" width="57.44" height="28.17" fill="#2fb47c"/>
<rect x="957.52" y="879.58" width="57.44" height="28.17" fill="#471365"/>
<rect x="1014.96" y="879.58" width="57.44" height="28.17" fill="#471365"/>
<rect x="1072.41" y="879.58" width="57.44" height="28.17" fill="#471365"/>
<rect x="727.75" y="907.75" width="57.44" height="28.17" fill="#5ec962"/>
<rect x="785.19" y="907.75" width="57.44" height="28.17" fill="#463480"/>
<rect x="842.64" y="907.75" width="57.44" height="28.17" fill="#471365"/>
<rect x="900.08" y="907.75" width="57.44" height="28.17" fill="#2fb47c"/>
<rect x="957.52" y="907.75" width="57.44" height="28.17" fill="#471365"/>
<rect x="1014.96" y="907.75" width="57.44" height="28.17" fill="#471365"/>
<rect x="1072.41" y="907.75" width="57.44" height="28.17" fill="#471365"/>
<rect x="727.75" y="935.92" width="57.44" height="28.17" fill="#25848e"/>
<rect x="785.19" y="935.92" width="57.44" height="28.17" fill="#471365"/>
<rect x="842.64" y="935.92" width="57.44" height="28.17" fill="#471365"/>
<rect x="900.08" y="935.92" width="57.44" height="28.17" fill="#1e9c89"/>
<rect x="957.52" y="935.92" width="57.44" height="28.17" fill="#471365"/>
<rect x="1014.96" y="935.92" width="57.44" height="28.17" fill="#471365"/>
<rect x="1072.41" y="935.92" width="57.44" height="28.17" fill="#471365"/>
<rect x="727.75" y="964.09" width="57.44" height="28.17" fill="#25848e"/>
<rect x="785.19" y="964.09" width="57.44" height="28.17" fill="#471365"/>
<rect x="842.64" y="964.09" width="57.44" height="28.17" fill="#471365"/>
<rect x="900.08" y="964.09" width="57.44" height="28.17" fill="#25848e"/>
<rect x="957.52" y="964.09" width="57.44" height="28.17" fill="#471365"/>
<rect x="1014.96" y="964.09" width="57.44" height="28.17" fill="#471365"/>
<rect x="1072.41" y="964.09" width="57.44" height="28.17" fill="#471365"/>
<rect x="727.75" y="992.26" width="57.44" height="28.17" fill="#1e9c89"/>
<rect x="785.19" y="992.26" width="57.44" height="28.17" fill="#471365"/>
<rect x="842.64" y="992.26" width="57.44" height="28.17" fill="#471365"/>
<rect x="900.08" y="992.26" width="57.44" height="28.17" fill="#25848e"/>
<rect x="957.52" y="992.26" width="57.44" height="28.17" fill="#471365"/>
<rect x="1014.96" y="992.26" width="57.44" height="28.17" fill="#471365"/>
<rect x="1072.41" y="992.26" width="57.44" height="28.17" fill="#471365"/>
<rect x="727.75" y="1020.43" width="57.44" height="28.17" fill="#5ec962"/>
<rect x="785.19" y="1020.43" width="57.44" height="28.17" fill="#463480"/>
<rect x="842.64" y="1020.43" width="57.44" height="28.17" fill="#471365"/>
<rect x="900.08" y="1020.43" width="57.44" height="28.17" fill="#5ec962"/>
<rect x="957.52" y="1020.43" width="57.44" height="28.17" fill="#463480"/>
<rect x="1014.96" y="1020.43" width="57.44" height="28.17" fill="#471365"/>
<rect x="1072.41" y="1020.43" width="57.44" height="28.17" fill="#463480"/>
<rect x="727.75" y="1048.60" width="57.44" height="28.17" fill="#1e9c89"/>
<rect x="785.19" y="1048.60" width="57.44" height="28.17" fill="#471365"/>
<rect x="842.64" y="1048.60" width="57.44" height="28.17" fill="#471365"/>
<rect x="900.08" y="1048.60" width="57.44" height="28.17" fill="#1e9c89"/>
<rect x="957.52" y="1048.60" width="57.44" height="28.17" fill="#471365"/>
<rect x="1014.96" y="1048.60" width="57.44" height="28.17" fill="#471365"/>
<rect x="1072.41" y="1048.60" width="57.44" height="28.17" fill="#471365"/>
<rect x="727.75" y="1076.77" width="57.44" height="28.17" fill="#1e9c89"/>
<rect x="785.19" y="1076.77" width="57.44" height="28.17" fill="#471365"/>
<rect x="842.64" y="1076.77" width="57.44" height="28.17" fill="#471365"/>
<rect x="900.08" y="1076.77" width="57.44" height="28.17" fill="#1e9c89"/>
<rect x="957.52" y="1076.77" width="57.44" height="28.17" fill="#471365"/>
<rect x="1014.96" y="1076.77" width="57.44" height="28.17" fill="#471365"/>
<rect x="1072.41" y="1076.77" width="57.44" height="28.17" fill="#471365"/>
<rect x="727.75" y="1104.94" width="57.44" height="28.17" fill="#1e9c89"/>
<rect x="785.19" y="1104.94" width="57.44" height="28.17" fill="#471365"/>
<rect x="842.64" y="1104.94" width="57.44" height="28.17" fill="#471365"/>
<rect x="900.08" y="1104.94" width="57.44" height="28.17" fill="#2fb47c"/>
<rect x="957.52" y="1104.94" width="57.44" height="28.17" fill="#471365"/>
<rect x="1014.96" y="1104.94" width="57.44" height="28.17" fill="#471365"/>
<rect x="1072.41" y="1104.94" width="57.44" height="28.17" fill="#471365"/>
<rect x="727.75" y="1133.11" width="57.44" height="28.17" fill="#2fb47c"/>
<rect x="785.19" y="1133.11" width="57.44" height="28.17" fill="#471365"/>
<rect x="842.64" y="1133.11" width="57.44" height="28.17" fill="#471365"/>
<rect x="900.08" y="1133.11" width="57.44" height="28.17" fill="#2fb47c"/>
<rect x="957.52" y="1133.11" width="57.44" height="28.17" fill="#471365"/>
<rect x="1014.96" y="1133.11" width="57.44" height="28.17" fill="#471365"/>
<rect x="1072.41" y="1133.11" width="57.44" height="28.17" fill="#471365"/>
<rect x="727.75" y="1161.28" width="57.44" height="28.17" fill="#2fb47c"/>
<rect x="785.19" y="1161.28" width="57.44" height="28.17" fill="#471365"/>
<rect x="842.64" y="1161.28" width="57.44" height="28.17" fill="#471365"/>
<rect x="900.08" y="1161.28" width="57.44" height="28.17" fill="#1e9c89"/>
<rect x="957.52" y="1161.28" width="57.44" height="28.17" fill="#463480"/>
<rect x="1014.96" y="1161.28" width="57.44" height="28.17" fill="#471365"/>
<rect x="1072.41" y="1161.28" width="57.44" height="28.17" fill="#463480"/>
<rect x="727.75" y="1189.45" width="57.44" height="28.17" fill="#1e9c89"/>
<rect x="785.19" y="1189.45" width="57.44" height="28.17" fill="#471365"/>
<rect x="842.64" y="1189.45" width="57.44" height="28.17" fill="#471365"/>
<rect x="900.08" y="1189.45" width="57.44" height="28.17" fill="#2fb47c"/>
<rect x="957.52" y="1189.45" width="57.44" height="28.17" fill="#471365"/>
<rect x="1014.96" y="1189.45" width="57.44" height="28.17" fill="#471365"/>
<rect x="1072.41" y="1189.45" width="57.44" height="28.17" fill="#471365"/>
<rect x="727.75" y="1217.62" width="57.44" height="28.17" fill="#5ec962"/>
<rect x="785.19" y="1217.62" width="57.44" height="28.17" fill="#471365"/>
<rect x="842.64" y="1217.62" width="57.44" height="28.17" fill="#471365"/>
<rect x="900.08" y="1217.62" width="57.44" height="28.17" fill="#25848e"/>
<rect x="957.52" y="1217.62" width="57.44" height="28.17" fill="#471365"/>
<rect x="1014.96" y="1217.62" width="57.44" height="28.17" fill="#471365"/>
<rect x="1072.41" y="1217.62" width="57.44" height="28.17" fill="#471365"/>
<rect x="727.75" y="1245.79" width="57.44" height="28.17" fill="#2fb47c"/>
<rect x="785.19" y="1245.79" width="57.44" height="28.17" fill="#463480"/>
<rect x="842.64" y="1245.79" width="57.44" height="28.17" fill="#471365"/>
<rect x="900.08" y="1245.79" width="57.44" height="28.17" fill="#1e9c89"/>
<rect x="957.52" y="1245.79" width="57.44" height="28.17" fill="#471365"/>
<rect x="1014.96" y="1245.79" width="57.44" height="28.17" fill="#471365"/>
<rect x="1072.41" y="1245.79" width="57.44" height="28.17" fill="#471365"/>
<rect x="727.75" y="1273.96" width="57.44" height="28.17" fill="#2fb47c"/>
<rect x="785.19" y="1273.96" width="57.44" height="28.17" fill="#463480"/>
<rect x="842.64" y="1273.96" width="57.44" height="28.17" fill="#471365"/>
<rect x="900.08" y="1273.96" width="57.44" height="28.17" fill="#2fb47c"/>
<rect x="957.52" y="1273.96" width="57.44" height="28.17" fill="#463480"/>
<rect x="1014.96" y="1273.96" width="57.44" height="28.17" fill="#471365"/>
<rect x="1072.41" y="1273.96" width="57.44" height="28.17" fill="#463480"/>
<rect x="727.75" y="1302.13" width="57.44" height="28.17" fill="#2fb47c"/>
<rect x="785.19" y="1302.13" width="57.44" height="28.17" fill="#471365"/>
<rect x="842.64" y="1302.13" width="57.44" height="28.17" fill="#471365"/>
<rect x="900.08" y="1302.13" width="57.44" height="28.17" fill="#1e9c89"/>
<rect x="957.52" y="1302.13" width="57.44" height="28.17" fill="#471365"/>
<rect x="1014.96" y="1302.13" width="57.44" height="28.17" fill="#471365"/>
<rect x="1072.41" y="1302.13" width="57.44" height="28.17" fill="#471365"/>
<rect x="727.75" y="1330.30" width="57.44" height="28.17" fill="#1e9c89"/>
<rect x="785.19" y="1330.30" width="57.44" height="28.17" fill="#471365"/>
<rect x="842.64" y="1330.30" width="57.44" height="28.17" fill="#471365"/>
<rect x="900.08" y="1330.30" width="57.44" height="28.17" fill="#25848e"/>
<rect x="957.52" y="1330.30" width="57.44" height="28.17" fill="#471365"/>
<rect x="1014.96" y="1330.30" width="57.44" height="28.17" fill="#471365"/>
<rect x="1072.41" y="1330.30" width="57.44" height="28.17" fill="#471365"/>
<rect x="727.75" y="1358.47" width="57.44" height="28.17" fill="#1e9c89"/>
<rect x="785.19" y="1358.47" width="57.44" height="28.17" fill="#471365"/>
<rect x="842.64" y="1358.47" width="57.44" height="28.17" fill="#471365"/>
<rect x="900.08" y="1358.47" width="57.44" height="28.17" fill="#2f6c8e"/>
<rect x="957.52" y="1358.47" width="57.44" height="28.17" fill="#471365"/>
<rect x="1014.96" y="1358.47" width="57.44" height="28.17" fill="#471365"/>
<rect x="1072.41" y="1358.47" width="57.44" height="28.17" fill="#471365"/>
<rect x="727.75" y="1414.81" width="57.44" height="28.17" fill="#2fb47c"/>
<rect x="785.19" y="1414.81" width="57.44" height="28.17" fill="#463480"/>
<rect x="842.64" y="1414.81" width="57.44" height="28.17" fill="#471365"/>
<rect x="900.08" y="1414.81" width="57.44" height="28.17" fill="#1e9c89"/>
<rect x="957.52" y="1414.81" width="57.44" height="28.17" fill="#471365"/>
<rect x="1014.96" y="1414.81" width="57.44" height="28.17" fill="#471365"/>
<rect x="1072.41" y="1414.81" width="57.44" height="28.17" fill="#471365"/>
</g>
<g fill="#d9d9d9" stroke="#333333" stroke-width="2.3">
<rect x="290.4" y="0.5" width="412.5" height="62.2"/>
<rect x="723.15" y="0.5" width="411.65" height="62.2"/>
<rect x="1136.55" y="64.5" width="62.5" height="680.0"/>
<rect x="1136.55" y="765.2" width="62.5" height="680.3"/>
</g>
<g fill="#1a1a1a" color="#1a1a1a" stroke="currentColor" stroke-width="0.35" font-size="36.9" text-anchor="middle">
<text transform="translate(496.65,45.0) scale(1,1.025)">Precipitation</text>
<text transform="translate(928.97,45.0) scale(1,1.025)">Temperature</text>
<text font-size="36.42" transform="translate(1155.0,403.60) rotate(90) scale(1,1.038)">Alaska</text>
<text font-size="36.42" transform="translate(1155.0,1105.00) rotate(90) scale(1,1.038)">Hawaii</text>
</g>
<g fill="#4d4d4d" color="#4d4d4d" stroke="currentColor" stroke-width="0.35" font-size="30.22" text-anchor="end">
<text transform="translate(274.1,91.69) scale(1,1.027)">ACCESS&#8722;CM2</text>
<text transform="translate(274.1,119.86) scale(1,1.027)">ACCESS&#8722;ESM1&#8722;5</text>
<text transform="translate(274.1,148.03) scale(1,1.027)">CanESM5</text>
<text transform="translate(274.1,176.19) scale(1,1.027)">CESM2&#8722;WACCM</text>
<text transform="translate(274.1,204.37) scale(1,1.027)">CMCC&#8722;CM2&#8722;SR5</text>
<text transform="translate(274.1,232.53) scale(1,1.027)">CMCC&#8722;ESM2</text>
<text transform="translate(274.1,260.71) scale(1,1.027)">EC&#8722;Earth3</text>
<text transform="translate(274.1,288.88) scale(1,1.027)">EC&#8722;Earth3&#8722;Veg</text>
<text transform="translate(274.1,317.05) scale(1,1.027)">EC&#8722;Earth3&#8722;Veg&#8722;LR</text>
<text transform="translate(274.1,345.21) scale(1,1.027)">FGOALS&#8722;g3</text>
<text transform="translate(274.1,373.39) scale(1,1.027)">GFDL&#8722;ESM4</text>
<text transform="translate(274.1,401.56) scale(1,1.027)">IITM&#8722;ESM</text>
<text transform="translate(274.1,429.72) scale(1,1.027)">INM&#8722;CM4&#8722;8</text>
<text transform="translate(274.1,457.90) scale(1,1.027)">INM&#8722;CM5&#8722;0</text>
<text transform="translate(274.1,486.06) scale(1,1.027)">IPSL&#8722;CM6A&#8722;LR</text>
<text transform="translate(274.1,514.24) scale(1,1.027)">KACE&#8722;1&#8722;0&#8722;G</text>
<text transform="translate(274.1,542.41) scale(1,1.027)">MIROC6</text>
<text transform="translate(274.1,570.58) scale(1,1.027)">MPI&#8722;ESM1&#8722;2&#8722;HR</text>
<text transform="translate(274.1,598.75) scale(1,1.027)">MPI&#8722;ESM1&#8722;2&#8722;LR</text>
<text transform="translate(274.1,626.92) scale(1,1.027)">MRI&#8722;ESM2&#8722;0</text>
<text transform="translate(274.1,655.09) scale(1,1.027)">NorESM2&#8722;LM</text>
<text transform="translate(274.1,683.26) scale(1,1.027)">NorESM2&#8722;MM</text>
<text transform="translate(274.1,711.43) scale(1,1.027)">TaiESM1</text>
<text transform="translate(274.1,739.60) scale(1,1.027)">Ensemble Average</text>
<text transform="translate(274.1,792.09) scale(1,1.027)">ACCESS&#8722;CM2</text>
<text transform="translate(274.1,820.25) scale(1,1.027)">ACCESS&#8722;ESM1&#8722;5</text>
<text transform="translate(274.1,848.43) scale(1,1.027)">CanESM5</text>
<text transform="translate(274.1,876.60) scale(1,1.027)">CESM2&#8722;WACCM</text>
<text transform="translate(274.1,904.76) scale(1,1.027)">CMCC&#8722;CM2&#8722;SR5</text>
<text transform="translate(274.1,932.94) scale(1,1.027)">CMCC&#8722;ESM2</text>
<text transform="translate(274.1,961.11) scale(1,1.027)">EC&#8722;Earth3</text>
<text transform="translate(274.1,989.27) scale(1,1.027)">EC&#8722;Earth3&#8722;Veg</text>
<text transform="translate(274.1,1017.45) scale(1,1.027)">EC&#8722;Earth3&#8722;Veg&#8722;LR</text>
<text transform="translate(274.1,1045.61) scale(1,1.027)">FGOALS&#8722;g3</text>
<text transform="translate(274.1,1073.78) scale(1,1.027)">GFDL&#8722;ESM4</text>
<text transform="translate(274.1,1101.95) scale(1,1.027)">IITM&#8722;ESM</text>
<text transform="translate(274.1,1130.12) scale(1,1.027)">INM&#8722;CM4&#8722;8</text>
<text transform="translate(274.1,1158.29) scale(1,1.027)">INM&#8722;CM5&#8722;0</text>
<text transform="translate(274.1,1186.46) scale(1,1.027)">IPSL&#8722;CM6A&#8722;LR</text>
<text transform="translate(274.1,1214.63) scale(1,1.027)">KACE&#8722;1&#8722;0&#8722;G</text>
<text transform="translate(274.1,1242.80) scale(1,1.027)">MIROC6</text>
<text transform="translate(274.1,1270.97) scale(1,1.027)">MPI&#8722;ESM1&#8722;2&#8722;HR</text>
<text transform="translate(274.1,1299.14) scale(1,1.027)">MPI&#8722;ESM1&#8722;2&#8722;LR</text>
<text transform="translate(274.1,1327.32) scale(1,1.027)">MRI&#8722;ESM2&#8722;0</text>
<text transform="translate(274.1,1355.48) scale(1,1.027)">NorESM2&#8722;LM</text>
<text transform="translate(274.1,1383.65) scale(1,1.027)">NorESM2&#8722;MM</text>
<text transform="translate(274.1,1411.82) scale(1,1.027)">TaiESM1</text>
<text transform="translate(274.1,1439.99) scale(1,1.027)">Ensemble Average</text>
</g>
<g stroke="#333333" stroke-width="3.4">
<line x1="280.5" x2="290.2" y1="80.69" y2="80.69"/>
<line x1="280.5" x2="290.2" y1="108.86" y2="108.86"/>
<line x1="280.5" x2="290.2" y1="137.03" y2="137.03"/>
<line x1="280.5" x2="290.2" y1="165.19" y2="165.19"/>
<line x1="280.5" x2="290.2" y1="193.37" y2="193.37"/>
<line x1="280.5" x2="290.2" y1="221.53" y2="221.53"/>
<line x1="280.5" x2="290.2" y1="249.71" y2="249.71"/>
<line x1="280.5" x2="290.2" y1="277.88" y2="277.88"/>
<line x1="280.5" x2="290.2" y1="306.05" y2="306.05"/>
<line x1="280.5" x2="290.2" y1="334.21" y2="334.21"/>
<line x1="280.5" x2="290.2" y1="362.39" y2="362.39"/>
<line x1="280.5" x2="290.2" y1="390.56" y2="390.56"/>
<line x1="280.5" x2="290.2" y1="418.72" y2="418.72"/>
<line x1="280.5" x2="290.2" y1="446.90" y2="446.90"/>
<line x1="280.5" x2="290.2" y1="475.06" y2="475.06"/>
<line x1="280.5" x2="290.2" y1="503.24" y2="503.24"/>
<line x1="280.5" x2="290.2" y1="531.41" y2="531.41"/>
<line x1="280.5" x2="290.2" y1="559.58" y2="559.58"/>
<line x1="280.5" x2="290.2" y1="587.75" y2="587.75"/>
<line x1="280.5" x2="290.2" y1="615.92" y2="615.92"/>
<line x1="280.5" x2="290.2" y1="644.09" y2="644.09"/>
<line x1="280.5" x2="290.2" y1="672.26" y2="672.26"/>
<line x1="280.5" x2="290.2" y1="700.43" y2="700.43"/>
<line x1="280.5" x2="290.2" y1="728.60" y2="728.60"/>
<line x1="280.5" x2="290.2" y1="780.99" y2="780.99"/>
<line x1="280.5" x2="290.2" y1="809.15" y2="809.15"/>
<line x1="280.5" x2="290.2" y1="837.33" y2="837.33"/>
<line x1="280.5" x2="290.2" y1="865.50" y2="865.50"/>
<line x1="280.5" x2="290.2" y1="893.66" y2="893.66"/>
<line x1="280.5" x2="290.2" y1="921.84" y2="921.84"/>
<line x1="280.5" x2="290.2" y1="950.00" y2="950.00"/>
<line x1="280.5" x2="290.2" y1="978.17" y2="978.17"/>
<line x1="280.5" x2="290.2" y1="1006.35" y2="1006.35"/>
<line x1="280.5" x2="290.2" y1="1034.51" y2="1034.51"/>
<line x1="280.5" x2="290.2" y1="1062.68" y2="1062.68"/>
<line x1="280.5" x2="290.2" y1="1090.86" y2="1090.86"/>
<line x1="280.5" x2="290.2" y1="1119.03" y2="1119.03"/>
<line x1="280.5" x2="290.2" y1="1147.19" y2="1147.19"/>
<line x1="280.5" x2="290.2" y1="1175.37" y2="1175.37"/>
<line x1="280.5" x2="290.2" y1="1203.54" y2="1203.54"/>
<line x1="280.5" x2="290.2" y1="1231.70" y2="1231.70"/>
<line x1="280.5" x2="290.2" y1="1259.88" y2="1259.88"/>
<line x1="280.5" x2="290.2" y1="1288.05" y2="1288.05"/>
<line x1="280.5" x2="290.2" y1="1316.22" y2="1316.22"/>
<line x1="280.5" x2="290.2" y1="1344.38" y2="1344.38"/>
<line x1="280.5" x2="290.2" y1="1372.56" y2="1372.56"/>
<line x1="280.5" x2="290.2" y1="1400.72" y2="1400.72"/>
<line x1="280.5" x2="290.2" y1="1428.89" y2="1428.89"/>
<line x1="320.33" x2="320.33" y1="1446.2" y2="1455.2"/>
<line x1="370.78" x2="370.78" y1="1446.2" y2="1455.2"/>
<line x1="421.24" x2="421.24" y1="1446.2" y2="1455.2"/>
<line x1="471.70" x2="471.70" y1="1446.2" y2="1455.2"/>
<line x1="522.15" x2="522.15" y1="1446.2" y2="1455.2"/>
<line x1="572.61" x2="572.61" y1="1446.2" y2="1455.2"/>
<line x1="623.07" x2="623.07" y1="1446.2" y2="1455.2"/>
<line x1="673.52" x2="673.52" y1="1446.2" y2="1455.2"/>
<line x1="756.47" x2="756.47" y1="1446.2" y2="1455.2"/>
<line x1="813.91" x2="813.91" y1="1446.2" y2="1455.2"/>
<line x1="871.36" x2="871.36" y1="1446.2" y2="1455.2"/>
<line x1="928.80" x2="928.80" y1="1446.2" y2="1455.2"/>
<line x1="986.24" x2="986.24" y1="1446.2" y2="1455.2"/>
<line x1="1043.69" x2="1043.69" y1="1446.2" y2="1455.2"/>
<line x1="1101.13" x2="1101.13" y1="1446.2" y2="1455.2"/>
</g>
<g fill="#4d4d4d" color="#4d4d4d" stroke="currentColor" stroke-width="0.35" font-size="30.25" text-anchor="end">
<text transform="translate(331.03,1462.86) rotate(-90) scale(1,1.027)">Original</text>
<text transform="translate(381.48,1462.86) rotate(-90) scale(1,1.027)">DQM</text>
<text transform="translate(431.94,1462.86) rotate(-90) scale(1,1.027)">EQM</text>
<text transform="translate(482.40,1462.86) rotate(-90) scale(1,1.027)">GPQM</text>
<text transform="translate(532.85,1462.86) rotate(-90) scale(1,1.027)">QDM</text>
<text transform="translate(583.31,1462.86) rotate(-90) scale(1,1.027)">Scaling</text>
<text transform="translate(633.77,1462.86) rotate(-90) scale(1,1.027)">MVA</text>
<text transform="translate(684.22,1462.86) rotate(-90) scale(1,1.027)">LOCI</text>
<text transform="translate(767.17,1462.86) rotate(-90) scale(1,1.027)">Original</text>
<text transform="translate(824.61,1462.86) rotate(-90) scale(1,1.027)">DQM</text>
<text transform="translate(882.06,1462.86) rotate(-90) scale(1,1.027)">EQM</text>
<text transform="translate(939.50,1462.86) rotate(-90) scale(1,1.027)">QDM</text>
<text transform="translate(996.94,1462.86) rotate(-90) scale(1,1.027)">Scaling</text>
<text transform="translate(1054.39,1462.86) rotate(-90) scale(1,1.027)">MVA</text>
<text transform="translate(1111.83,1462.86) rotate(-90) scale(1,1.027)">Variance</text>
</g>
<rect x="283.60" y="1635.0" width="87.41" height="20.30" fill="#471365"/>
<rect x="371.01" y="1635.0" width="85.51" height="20.30" fill="#463480"/>
<rect x="456.52" y="1635.0" width="85.51" height="20.30" fill="#3b528b"/>
<rect x="542.03" y="1635.0" width="85.51" height="20.30" fill="#2f6c8e"/>
<rect x="627.54" y="1635.0" width="85.51" height="20.30" fill="#25848e"/>
<rect x="713.05" y="1635.0" width="85.51" height="20.30" fill="#1e9c89"/>
<rect x="798.56" y="1635.0" width="85.51" height="20.30" fill="#2fb47c"/>
<rect x="884.07" y="1635.0" width="85.51" height="20.30" fill="#5ec962"/>
<rect x="969.58" y="1635.0" width="85.51" height="20.30" fill="#9bd93c"/>
<rect x="1055.09" y="1635.0" width="86.71" height="20.30" fill="#dfe318"/>
<line x1="283.6" x2="1141.8" y1="1635.3" y2="1635.3" stroke="#000" stroke-width="1.0" stroke-opacity="0.9"/>
<line x1="283.6" x2="1141.8" y1="1654.9" y2="1654.9" stroke="#000" stroke-width="1.4" stroke-opacity="0.75"/>
<g stroke="#000" stroke-width="2.0">
<line x1="371.01" x2="371.01" y1="1635.0" y2="1655.3"/>
<line x1="456.52" x2="456.52" y1="1635.0" y2="1655.3"/>
<line x1="542.03" x2="542.03" y1="1635.0" y2="1655.3"/>
<line x1="627.54" x2="627.54" y1="1635.0" y2="1655.3"/>
<line x1="713.05" x2="713.05" y1="1635.0" y2="1655.3"/>
<line x1="798.56" x2="798.56" y1="1635.0" y2="1655.3"/>
<line x1="884.07" x2="884.07" y1="1635.0" y2="1655.3"/>
<line x1="969.58" x2="969.58" y1="1635.0" y2="1655.3"/>
<line x1="1055.09" x2="1055.09" y1="1635.0" y2="1655.3"/>
</g>
<g stroke="#000" stroke-width="2.6">
<line x1="284.90" x2="284.90" y1="1635.0" y2="1655.3"/>
<line x1="1140.45" x2="1140.45" y1="1635.0" y2="1655.3"/>
</g>
<g fill="#000" color="#000" stroke="currentColor" stroke-width="0.35" font-size="30.3" text-anchor="middle">
<text transform="translate(285.50,1694.9) scale(1,1.025)">0.0</text>
<text transform="translate(371.01,1694.9) scale(1,1.025)">0.1</text>
<text transform="translate(456.52,1694.9) scale(1,1.025)">0.2</text>
<text transform="translate(542.03,1694.9) scale(1,1.025)">0.3</text>
<text transform="translate(627.54,1694.9) scale(1,1.025)">0.4</text>
<text transform="translate(713.05,1694.9) scale(1,1.025)">0.5</text>
<text transform="translate(798.56,1694.9) scale(1,1.025)">0.6</text>
<text transform="translate(884.07,1694.9) scale(1,1.025)">0.7</text>
<text transform="translate(969.58,1694.9) scale(1,1.025)">0.8</text>
<text transform="translate(1055.09,1694.9) scale(1,1.025)">0.9</text>
<text transform="translate(1140.60,1694.9) scale(1,1.025)">1.0</text>
<text transform="translate(713.15,1750.7) scale(1,1.037)" font-size="36.9">Average D&#8722;statistic</text>
</g>
</svg>
</body></html>
